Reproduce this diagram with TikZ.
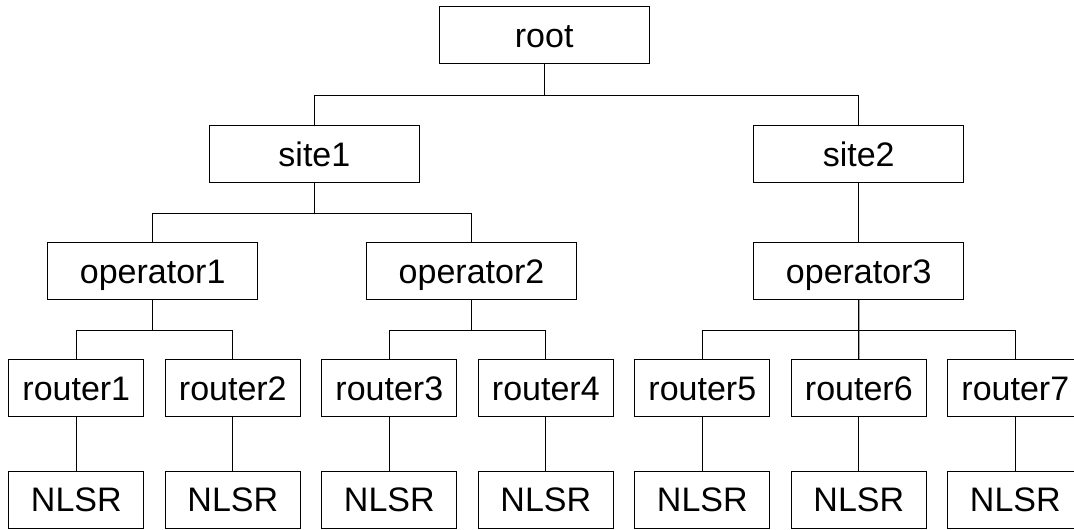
\documentclass[tikz,border=0pt]{standalone}
\usepackage{fontspec}
\setmainfont{Liberation Sans}
\usetikzlibrary{positioning}

\begin{document}
\begin{tikzpicture}[
    x=0.5pt, y=-0.5pt,
    line width=0.55pt,
    node distance={10.2pt},
    box/.style={draw, rectangle, inner sep=0pt, minimum height=28.5pt,
        text height=12.2pt, text depth=0pt,
        font=\fontsize{17}{20}\selectfont},
    wide/.style={box, minimum width=105pt},
    narrow/.style={box, minimum width=67.5pt}
]

\useasboundingbox (0,0) rectangle (1074,529);

\node[wide] (root) at (544.2,35.3) {root};
\node[wide] (site1) at (314.4,154) {site1};
\node[wide] (site2) at (858.7,154) {site2};
\node[wide] (op1) at (152.7,271) {operator1};
\node[wide] (op2) at (471.5,271) {operator2};
\node[wide] (op3) at (858.7,271) {operator3};

\node[narrow] (r1) at (76.3,388.4) {router1};
\node[narrow] (r2) [right=of r1] {router2};
\node[narrow] (r3) [right=of r2] {router3};
\node[narrow] (r4) [right=of r3] {router4};
\node[narrow] (r5) [right=of r4] {router5};
\node[narrow] (r6) [right=of r5] {router6};
\node[narrow] (r7) [right=of r6] {router7};

\node[narrow] (n1) [below=26.6pt of r1] {NLSR};
\node[narrow] (n2) [below=26.6pt of r2] {NLSR};
\node[narrow] (n3) [below=26.6pt of r3] {NLSR};
\node[narrow] (n4) [below=26.6pt of r4] {NLSR};
\node[narrow] (n5) [below=26.6pt of r5] {NLSR};
\node[narrow] (n6) [below=26.6pt of r6] {NLSR};
\node[narrow] (n7) [below=26.6pt of r7] {NLSR};

\draw (root.south) -- ++(0,31) -| (site1.north);
\draw (root.south) -- ++(0,31) -| (site2.north);
\draw (site1.south) -- ++(0,30) -| (op1.north);
\draw (site1.south) -- ++(0,30) -| (op2.north);
\draw (site2) -- (op3);

\draw (op1.south) -- ++(0,30.3) -| (r1.north);
\draw (op1.south) -- ++(0,30.3) -| (r2.north);
\draw (op2.south) -- ++(0,30.3) -| (r3.north);
\draw (op2.south) -- ++(0,30.3) -| (r4.north);
\draw (op3.south) -- ++(0,30.3) -| (r5.north);
\draw (op3.south) -- ++(0,30.3) -| (r7.north);
\draw (op3) -- (r6);

\path
    (r1) edge (n1)
    (r2) edge (n2)
    (r3) edge (n3)
    (r4) edge (n4)
    (r5) edge (n5)
    (r6) edge (n6)
    (r7) edge (n7)
    ;

\end{tikzpicture}
\end{document}
